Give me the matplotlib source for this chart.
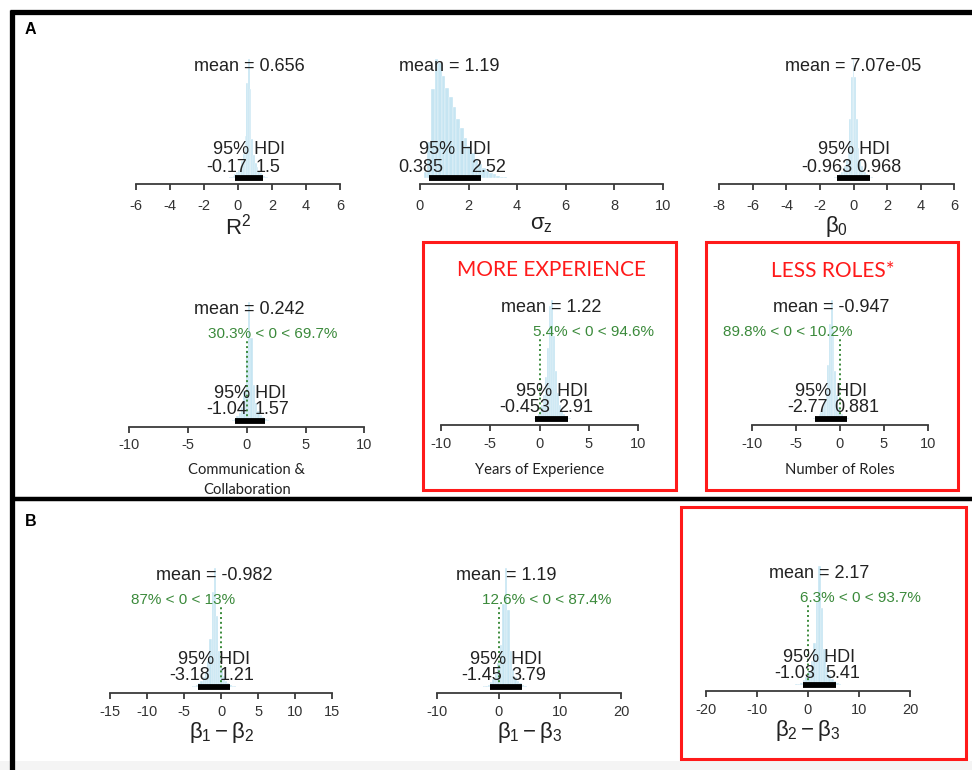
import matplotlib
matplotlib.use("Agg")
import matplotlib.pyplot as plt
from matplotlib.lines import Line2D
from matplotlib.patches import Rectangle
import numpy as np

plt.rcParams["font.family"] = ["Liberation Sans", "DejaVu Sans"]
plt.rcParams["axes.unicode_minus"] = False
plt.rcParams["mathtext.fontset"] = "custom"
plt.rcParams["mathtext.rm"] = "Liberation Sans"
plt.rcParams["mathtext.it"] = "Liberation Sans"
plt.rcParams["mathtext.bf"] = "Liberation Sans:bold"

# ---------------------------------------------------------------- data
param_labels = ["R$^2$", r"$\sigma_z$", r"$\beta_0$",
                "Communication &\nCollaboration", "Years of Experience", "Number of Roles",
                r"$\beta_1 - \beta_2$", r"$\beta_1 - \beta_3$", r"$\beta_2 - \beta_3$"]
means = [0.656, 1.19, 7.07e-05, 0.242, 1.22, -0.947, -0.982, 1.19, 2.17]
hdi_low = [-0.17, 0.385, -0.963, -1.04, -0.453, -2.77, -3.18, -1.45, -1.03]
hdi_high = [1.5, 2.52, 0.968, 1.57, 2.91, 0.881, 1.21, 3.79, 5.41]
pct_below = [None, None, None, 30.3, 5.4, 89.8, 87, 12.6, 6.3]
pct_above = [None, None, None, 69.7, 94.6, 10.2, 13, 87.4, 93.7]
comp_value = 0

tick_lo = [-6, 0, -8, -10, -10, -10, -15, -10, -20]
tick_hi = [6, 10, 6, 10, 10, 10, 15, 20, 20]
tick_step = [2, 2, 2, 5, 5, 5, 5, 10, 10]

# posterior histograms: first bin edge, bin width, relative bar heights
hist_start = [-0.5, 0.15, -1.15, -1.3, -0.6, -3.0, -4.0, -2.6, -2.5]
hist_width = [0.1, 0.15, 0.1, 0.2, 0.2, 0.2, 0.3, 0.4, 0.5]
hist_heights = [
    [0.005, 0.01, 0.02, 0.03, 0.05, 0.07, 0.1, 0.14, 0.2, 0.35, 0.8, 1.0,
     0.75, 0.33, 0.19, 0.13, 0.09, 0.06, 0.04, 0.03, 0.02, 0.01, 0.005],
    [0.05, 0.3, 0.75, 1.0, 0.97, 0.86, 0.76, 0.68, 0.6, 0.5, 0.42, 0.34,
     0.27, 0.21, 0.16, 0.12, 0.08, 0.06, 0.04, 0.03, 0.02, 0.012, 0.008],
    [0.005, 0.01, 0.02, 0.03, 0.05, 0.07, 0.1, 0.15, 0.25, 0.5, 0.85, 1.0,
     0.85, 0.5, 0.25, 0.15, 0.1, 0.07, 0.05, 0.03, 0.02, 0.01, 0.005],
    [0.01, 0.02, 0.04, 0.07, 0.12, 0.25, 0.6, 1.0, 0.7, 0.3, 0.15, 0.08,
     0.05, 0.03, 0.015, 0.008],
    [0.01, 0.02, 0.04, 0.07, 0.12, 0.2, 0.35, 0.6, 0.95, 1.0, 0.7, 0.4,
     0.22, 0.12, 0.07, 0.04, 0.02, 0.01, 0.005],
    [0.005, 0.01, 0.02, 0.04, 0.06, 0.1, 0.16, 0.25, 0.45, 0.8, 1.0, 0.75,
     0.4, 0.2, 0.1, 0.06, 0.04, 0.02, 0.01, 0.005, 0.003],
    [0.005, 0.01, 0.02, 0.03, 0.05, 0.08, 0.13, 0.22, 0.4, 0.8, 1.0, 0.6,
     0.3, 0.16, 0.09, 0.05, 0.03, 0.02, 0.01, 0.005, 0.003],
    [0.005, 0.01, 0.02, 0.04, 0.07, 0.12, 0.2, 0.35, 0.7, 1.0, 0.65, 0.3,
     0.15, 0.08, 0.05, 0.03, 0.015, 0.008, 0.004],
    [0.005, 0.01, 0.02, 0.04, 0.07, 0.12, 0.2, 0.35, 0.7, 1.0, 0.65, 0.3,
     0.15, 0.08, 0.05, 0.03, 0.015, 0.008, 0.004],
]

# ---------------------------------------------------------------- layout (pixels)
W, H = 972, 770
# left tick px, right tick px, axis line y px
panel_px = [
    (135.7, 340.0, 184), (420.0, 662.7, 184), (719.3, 954.3, 184),
    (129.3, 364.3, 427), (440.7, 638.3, 425), (751.7, 927.7, 425),
    (110.0, 332.3, 693), (437.3, 621.0, 693), (706.0, 910.0, 691),
]
tick_pad = [6, 6, 6, 3.5, 4.5, 4.5, 4, 4, 4]
AX_H = 125          # axes height in px
ZERO_UP = 6         # density zero sits this far above the axis line
SCALE = AX_H - ZERO_UP

TEXT = "#222222"
GREEN = "#3b8a3b"
HIST = "#c6e5f2"
RED = "#ff1a1a"

fig = plt.figure(figsize=(W / 100, H / 100), dpi=100)
fig.patch.set_facecolor("white")


def fx(x):
    return x / W


def fy(y):
    return 1 - y / H


def fmt(v):
    return "{:.3g}".format(v)


pending = []   # (annotation, fraction, dy) triples shifted after measuring


def frac_text(ax, x, y, s, frac, dy, **kw):
    t = ax.annotate(s, xy=(x, y), xytext=(0, dy), textcoords="offset pixels",
                    ha="left", va="baseline", annotation_clip=False, **kw)
    pending.append((t, frac, dy))
    return t


for i in range(9):
    xl, xr, ya = panel_px[i]
    ax = fig.add_axes([fx(xl), fy(ya), (xr - xl) / W, AX_H / H])
    ax.set_xlim(tick_lo[i], tick_hi[i])
    ax.set_ylim(-ZERO_UP / SCALE, AX_H / SCALE - ZERO_UP / SCALE)
    ax.patch.set_visible(False)
    for s in ["top", "left", "right"]:
        ax.spines[s].set_visible(False)
    ax.spines["bottom"].set_color("#3a3a3a")
    ax.spines["bottom"].set_linewidth(1.3)
    ax.set_yticks([])
    ticks = np.arange(tick_lo[i], tick_hi[i] + tick_step[i] / 2, tick_step[i])
    ax.set_xticks(ticks)
    ax.set_xticklabels([str(int(t)) for t in ticks])
    ax.tick_params(axis="x", direction="out", length=4.5, width=1.3,
                   color="#3a3a3a", labelsize=10.5, labelcolor="#333333",
                   pad=tick_pad[i])

    # histogram
    h = np.array(hist_heights[i], dtype=float)
    h = h / h.max()
    centers = hist_start[i] + hist_width[i] * (np.arange(len(h)) + 0.5)
    ax.bar(centers, h, width=hist_width[i], color=HIST, edgecolor="white",
           linewidth=0.25, zorder=1)

    # HDI bar
    ax.plot([hdi_low[i], hdi_high[i]], [0, 0], color="black", lw=4.2,
            solid_capstyle="butt", zorder=3, clip_on=False)

    # mean
    frac_text(ax, means[i], 0.9, "mean = " + fmt(means[i]), 0.5, 0,
              fontsize=13, color=TEXT, zorder=4)

    # HDI labels
    frac_text(ax, (hdi_low[i] + hdi_high[i]) / 2, 0, "95% HDI", 0.5, 23.5,
              fontsize=13, color=TEXT, zorder=4)
    frac_text(ax, hdi_low[i], 0, fmt(hdi_low[i]), 0.7, 6.5,
              fontsize=13, color=TEXT, zorder=4)
    frac_text(ax, hdi_high[i], 0, fmt(hdi_high[i]), 0.3, 6.5,
              fontsize=13, color=TEXT, zorder=4)

    # comparison value
    if pct_below[i] is not None:
        ax.plot([comp_value, comp_value], [0, 0.96 * 0.7], color=GREEN, lw=1.4,
                ls=(0, (1, 1.5)), zorder=2)
        s = "{:g}% < {:g} < {:g}%".format(pct_below[i], comp_value, pct_above[i])
        frac_text(ax, comp_value, 0.7, s, pct_below[i] / 100, 0,
                  fontsize=11, color=GREEN, zorder=4)

    # axis title
    if 3 <= i <= 5:
        ax.set_xlabel(param_labels[i], fontsize=10.6, family=["Lato", "DejaVu Sans"],
                      color=TEXT, labelpad=8, linespacing=1.55)
    else:
        ax.set_xlabel(param_labels[i], fontsize=16, color=TEXT, labelpad=1)

# shift fractional-anchored texts by their rendered width
renderer = fig.canvas.get_renderer()
for t, frac, dy in pending:
    w = t.get_window_extent(renderer).width
    t.xyann = (-frac * w, dy)

# ---------------------------------------------------------------- frames
def hline(y, x0, x1, lw, color):
    fig.add_artist(Line2D([fx(x0), fx(x1)], [fy(y), fy(y)], color=color, lw=lw,
                          solid_capstyle="butt", transform=fig.transFigure))


def vline(x, y0, y1, lw, color):
    fig.add_artist(Line2D([fx(x), fx(x)], [fy(y0), fy(y1)], color=color, lw=lw,
                          solid_capstyle="butt", transform=fig.transFigure))


def box(x0, y0, x1, y1, lw, color):
    fig.add_artist(Rectangle((fx(x0), fy(y1)), fx(x1) - fx(x0), fy(y0) - fy(y1),
                             fill=False, edgecolor=color, lw=lw,
                             transform=fig.transFigure))


fig.add_artist(Rectangle((0, 0), 1, fy(761), facecolor="#f4f4f4", edgecolor="none",
                         transform=fig.transFigure, zorder=-5))
hline(12, 9.5, W, 3.8, "black")
vline(12, 9.5, H, 3.8, "black")
hline(499, 12, W, 3.2, "black")

box(423, 242, 676, 490, 2.2, RED)
box(706, 242, 958, 490, 2.2, RED)
box(681, 507, 966, 759, 2.2, RED)

fig.text(fx(551), fy(270), "MORE EXPERIENCE", color=RED, fontsize=15,
         family=["Lato", "DejaVu Sans"], ha="center", va="center")
fig.text(fx(833), fy(271), "LESS ROLES*", color=RED, fontsize=15,
         family=["Lato", "DejaVu Sans"], ha="center", va="center")

fig.text(fx(25), fy(30), "A", fontsize=11.5, fontweight="bold", color="black",
         va="center", ha="left")
fig.text(fx(25), fy(522), "B", fontsize=11.5, fontweight="bold", color="black",
         va="center", ha="left")

fig.savefig("out.png", dpi=100, facecolor="white")
